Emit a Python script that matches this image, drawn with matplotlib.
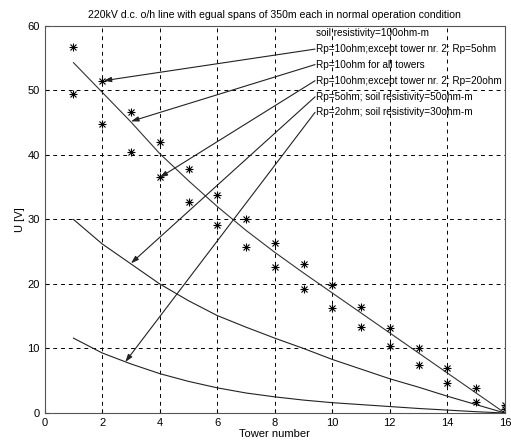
import matplotlib
matplotlib.use("Agg")
from matplotlib import pyplot as plt

plt.rcParams['font.family'] = ['Liberation Sans Narrow', 'Liberation Sans', 'DejaVu Sans']

towers = list(range(1, 17))

# measured stars
stars_upper = [56.8, 51.5, 46.6, 42.0, 37.8, 33.8, 30.0, 26.4, 23.1, 19.8, 16.4, 13.1, 10.1, 6.9, 3.9, 1.3]
stars_lower = [49.4, 44.8, 40.5, 36.5, 32.7, 29.1, 25.8, 22.6, 19.2, 16.2, 13.3, 10.4, 7.5, 4.6, 1.7, 0.6]

# curves
line_top = [54.3, 49.7, 45.1, 40.2, 36.0, 32.0, 28.3, 24.9, 21.7, 18.6, 15.5, 12.4, 9.3, 6.2, 3.1, 0.0]
line_mid = [30.0, 26.2, 23.1, 20.0, 17.4, 15.1, 13.3, 11.6, 10.0, 8.3, 6.8, 5.3, 4.0, 2.6, 1.3, 0.0]
line_low = [11.6, 9.3, 7.6, 6.1, 4.9, 3.9, 3.1, 2.5, 2.0, 1.6, 1.3, 1.0, 0.7, 0.45, 0.2, 0.0]

labels = ["soil resistivity=100ohm-m",
          "Rp=10ohm;except tower nr. 2: Rp=5ohm",
          "Rp=10ohm for all towers",
          "Rp=10ohm;except tower nr. 2: Rp=20ohm",
          "Rp=5ohm; soil resistivity=50ohm-m",
          "Rp=2ohm; soil resistivity=30ohm-m"]
label_y = [58.9, 56.4, 54.0, 51.5, 49.0, 46.6]
# where the arrows point (None = no arrow)
targets = [None, (2.05, 51.5), (3.0, 45.2), (4.0, 36.5), (3.0, 23.2), (2.8, 7.9)]

fig = plt.figure(figsize=(5.11, 4.46), dpi=100)
ax = fig.add_axes([0.0875, 0.074, 0.9005, 0.868])

ax.plot(towers, line_top, color='#333333', lw=0.8)
ax.plot(towers, line_mid, color='#222222', lw=0.8)
ax.plot(towers, line_low, color='#222222', lw=0.8)
for ys in (stars_upper, stars_lower):
    ax.plot(towers, ys, '+', color='black', ms=6, mew=0.8)
    ax.plot(towers, ys, 'x', color='black', ms=4, mew=0.8)

for txt, ty, tg in zip(labels, label_y, targets):
    ax.text(9.45, ty, txt, fontsize=7.2, va='center', ha='left')
    if tg is not None:
        ax.annotate("", xy=tg, xytext=(9.4, ty),
                    arrowprops=dict(arrowstyle='-|>,head_length=0.45,head_width=0.15',
                                    color='#222222', lw=0.8, shrinkA=0, shrinkB=0))

ax.set_xlim(0, 16)
ax.set_ylim(0, 60)
ax.set_xticks(range(0, 17, 2))
ax.set_yticks(range(0, 61, 10))
ax.grid(True, linestyle=(0, (4, 4)), color='black', lw=0.7)
ax.tick_params(direction='in', labelsize=8, length=3)
for s in ax.spines.values():
    s.set_color('#555555')

ax.set_xlabel("Tower number", fontsize=8, labelpad=1)
ax.set_ylabel("U [V]", fontsize=8, labelpad=2)
ax.set_title("220kV d.c. o/h line with egual spans of 350m each in normal operation condition",
             fontsize=7.6, pad=6)

fig.savefig("out.png", dpi=100)
